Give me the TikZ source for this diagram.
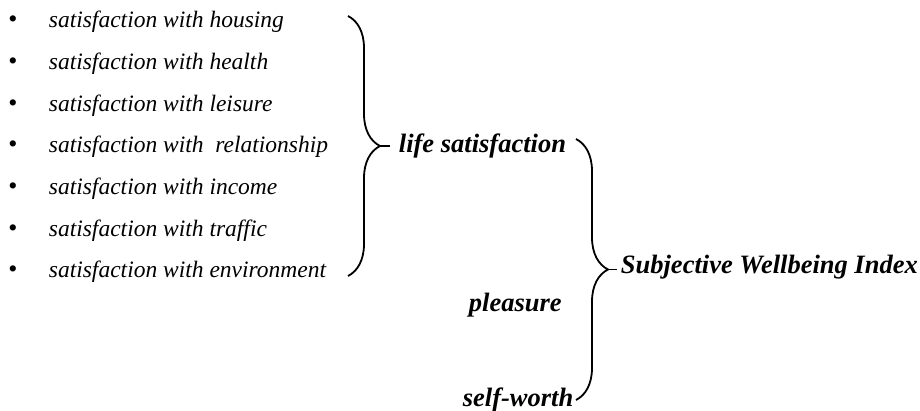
\documentclass[tikz,border=0pt]{standalone}
\usepackage{fontspec}
\setmainfont{Liberation Serif}
\usetikzlibrary{decorations.pathreplacing}

\begin{document}
\begin{tikzpicture}[x=1pt,y=1pt,line width=1.8pt]
    \tikzstyle{item}=[anchor=base west, inner sep=0pt, font=\fontsize{23.5}{28}\selectfont\itshape]
    \tikzstyle{dot}=[anchor=base, inner sep=0pt, font=\fontsize{26}{30}\selectfont]
    \tikzstyle{group}=[anchor=base west, inner sep=0pt, font=\fontsize{26.5}{31}\selectfont\bfseries\itshape]
    \tikzstyle{curly}=[decorate, decoration={brace, amplitude=32pt}]

    \useasboundingbox (0,0) rectangle (920,-411);

    % list of satisfaction items
    \node[dot]  (d1) at (13,-28)  {\textbullet};
    \node[dot]  (d2) at (13,-70)  {\textbullet};
    \node[dot]  (d3) at (13,-112) {\textbullet};
    \node[dot]  (d4) at (13,-153) {\textbullet};
    \node[dot]  (d5) at (13,-195) {\textbullet};
    \node[dot]  (d6) at (13,-237) {\textbullet};
    \node[dot]  (d7) at (13,-278) {\textbullet};
    \node[item] (housing)  at (48,-28)  {satisfaction with housing};
    \node[item] (health)   at (48,-70)  {satisfaction with health};
    \node[item] (leisure)  at (48,-112) {satisfaction with leisure};
    \node[item] (relation) at (48,-153) {satisfaction with \ relationship};
    \node[item] (income)   at (48,-195) {satisfaction with income};
    \node[item] (traffic)  at (48,-237) {satisfaction with traffic};
    \node[item] (environ)  at (48,-278) {satisfaction with environment};

    % components of the index
    \node[group] (life)     at (398,-153) {life satisfaction};
    \node[group] (pleasure) at (468,-312) {pleasure};
    \node[group] (worth)    at (462,-406) {self-worth};
    \node[group] (index)    at (620,-274) {Subjective Wellbeing Index};

    % braces
    \coordinate (ltop) at (348,-16);
    \coordinate (lbot) at (348,-276);
    \coordinate (ltip) at (380,-146);
    \coordinate (lend) at (390,-146);
    \coordinate (rtop) at (576,-139);
    \coordinate (rbot) at (576,-400);
    \coordinate (rtip) at (608,-269.5);
    \coordinate (rend) at (617,-269.5);
    \draw[curly] (ltop) -- (lbot);
    \draw[curly] (rtop) -- (rbot);
    \path[draw]
     (ltip) -- (lend)
     (rtip) -- (rend)
     ;
\end{tikzpicture}
\end{document}
